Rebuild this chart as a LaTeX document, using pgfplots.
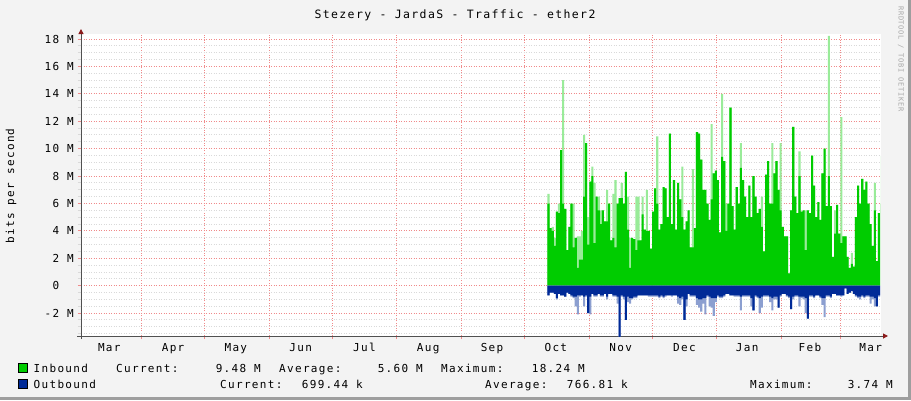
\documentclass[border=0pt]{standalone}
\usepackage{pgfplots}
\usepackage{pgfplotstable}
\pgfplotsset{compat=1.18}
\usetikzlibrary{arrows.meta}
\usepackage{fontspec}
\setmainfont{DejaVu Sans Mono}
\newfontfamily\rrd[LetterSpace=12]{DejaVu Sans Mono}
\newfontfamily\wmfont[LetterSpace=10]{DejaVu Sans Mono}
\definecolor{inb}{HTML}{00CC00}
\definecolor{outb}{HTML}{002A97}
\definecolor{bg}{HTML}{F3F3F3}
\definecolor{shadeb}{HTML}{9E9E9E}
\definecolor{mgrid}{HTML}{F08A8A}
\definecolor{mingrid}{HTML}{D9D9D9}
\definecolor{arrowc}{HTML}{8B1A1A}
\definecolor{axisc}{HTML}{505050}
\definecolor{wmc}{HTML}{A8A8A8}

\pgfplotstableread{
d ins inp outs outp
225 6.0 6.7 0.7 0.7
226 4.2 4.2 0.5 0.5
227 4.0 4.3 0.5 0.5
228 2.9 3.5 0.6 0.6
229 5.4 5.4 0.9 1.0
230 5.3 6.0 0.6 0.6
231 9.9 9.9 0.7 0.7
232 6.0 15.0 0.7 0.7
233 5.6 5.6 0.8 0.8
234 2.6 2.6 0.5 0.5
235 4.3 4.3 0.6 0.6
236 6.0 6.0 0.7 0.8
237 2.8 6.0 0.8 0.9
238 3.5 3.5 0.8 1.5
239 1.3 3.6 0.7 2.1
240 1.9 3.6 0.7 0.8
241 1.9 4.0 0.7 0.7
242 6.5 11.0 0.8 1.5
243 10.4 10.4 0.7 0.8
244 3.0 5.0 2.0 2.0
245 7.6 7.6 0.8 2.1
246 8.0 8.7 0.6 0.6
247 3.1 7.5 0.7 0.8
248 6.5 6.5 0.7 0.8
249 5.5 6.5 0.6 0.6
250 4.5 5.5 0.7 0.8
251 5.5 5.5 0.7 0.8
252 4.7 4.7 0.6 0.6
253 4.7 7.0 0.8 1.0
254 6.0 6.0 0.6 0.6
255 3.3 3.3 0.6 0.6
256 3.5 6.7 0.7 0.8
257 2.8 7.7 0.7 0.8
258 6.0 6.0 0.8 1.3
259 6.4 6.4 3.74 3.74
260 6.4 7.5 0.7 0.8
261 6.0 6.0 0.8 1.0
262 8.3 8.3 2.5 2.5
263 4.1 6.5 0.8 1.2
264 1.3 3.5 0.9 1.3
265 3.5 3.5 0.9 1.0
266 3.4 3.4 0.8 0.9
267 2.6 6.5 0.8 0.9
268 3.3 6.5 0.7 0.7
269 3.3 3.3 0.7 0.7
270 5.2 6.5 0.7 0.7
271 4.1 4.1 0.7 0.7
272 4.0 7.0 0.7 0.7
273 4.0 4.0 0.7 0.8
274 2.7 2.7 0.7 0.8
275 5.4 5.4 0.7 0.8
276 7.1 7.1 0.7 0.8
277 6.0 10.9 0.7 0.8
278 4.1 4.1 0.8 0.9
279 4.5 4.5 0.7 0.8
280 7.2 7.2 0.8 0.9
281 7.1 7.1 0.7 0.8
282 5.0 5.0 0.7 0.7
283 11.1 11.1 0.7 0.7
284 4.5 4.5 0.7 0.8
285 7.7 7.7 0.7 0.7
286 4.1 4.1 0.7 0.7
287 7.5 7.5 0.8 1.3
288 6.3 6.3 0.9 1.4
289 5.0 8.7 0.8 1.0
290 4.1 4.1 2.5 2.5
291 4.7 4.7 1.0 1.5
292 5.5 5.5 0.6 0.6
293 2.8 2.8 0.7 0.8
294 2.8 8.5 0.7 0.8
295 4.2 4.2 0.7 0.8
296 11.2 11.2 0.9 1.4
297 11.1 11.1 1.0 1.6
298 9.2 9.2 1.0 1.9
299 7.0 7.0 0.9 1.3
300 7.0 7.0 0.9 2.1
301 6.0 6.0 0.7 0.8
302 4.8 4.8 0.8 1.5
303 6.3 11.8 0.9 1.6
304 8.2 8.2 0.9 2.2
305 8.4 8.4 0.9 1.2
306 7.7 7.7 0.7 0.8
307 3.9 3.9 0.8 0.9
308 9.4 14.0 0.8 0.9
309 9.1 9.1 0.7 0.8
310 4.0 6.0 0.6 0.6
311 6.0 6.0 0.6 0.6
312 13.0 13.0 0.7 0.7
313 5.8 5.8 0.7 0.7
314 4.1 4.1 0.7 0.8
315 7.2 7.2 0.7 0.8
316 6.0 6.0 0.7 0.8
317 8.6 10.4 0.8 1.8
318 7.7 7.7 0.7 0.8
319 6.5 6.5 0.7 0.8
320 5.0 5.0 0.7 0.8
321 7.3 7.3 0.7 0.8
322 5.0 5.0 0.9 1.5
323 8.0 8.0 1.8 1.8
324 6.5 6.5 0.7 0.8
325 5.3 5.3 0.8 0.9
326 5.6 5.6 0.9 2.0
327 4.3 6.5 0.8 1.6
328 2.5 2.5 0.7 0.8
329 8.1 8.1 0.7 0.8
330 9.1 9.1 0.7 0.8
331 6.0 6.0 0.8 1.2
332 6.0 10.4 0.9 1.8
333 8.2 8.2 0.8 1.0
334 9.1 9.1 0.8 1.0
335 7.0 7.0 1.6 1.6
336 5.5 10.4 0.7 0.8
337 4.3 4.3 0.6 0.6
338 3.6 3.6 0.6 0.6
339 3.6 3.6 0.7 0.8
340 0.9 0.9 0.8 0.9
341 5.5 5.5 1.7 1.7
342 11.6 11.6 0.8 1.0
343 6.5 6.5 0.7 0.8
344 5.3 5.3 0.7 0.8
345 8.0 9.8 0.8 1.5
346 5.4 5.4 0.8 0.9
347 5.5 5.5 0.8 1.0
348 2.6 5.5 0.9 2.0
349 5.5 5.5 2.4 2.4
350 5.3 5.3 0.7 0.8
351 9.5 9.5 0.7 0.8
352 7.3 7.3 0.8 0.9
353 5.0 5.0 0.7 0.7
354 6.1 6.1 0.7 0.7
355 4.8 4.8 0.8 0.9
356 8.2 8.2 0.9 1.4
357 10.0 10.0 0.9 2.3
358 5.8 5.8 0.7 0.8
359 8.0 18.24 0.7 0.8
360 5.8 5.8 0.8 0.9
361 2.1 2.1 0.6 0.6
362 3.8 5.5 0.6 0.6
363 5.9 5.9 0.7 0.7
364 3.8 3.8 0.7 0.7
365 3.1 12.3 0.7 0.8
366 3.6 3.6 0.7 0.7
367 3.6 3.6 0.2 0.2
368 2.1 2.1 0.6 0.6
369 1.3 1.3 0.5 0.5
370 1.6 2.4 0.4 0.4
371 1.4 1.4 0.6 0.6
372 5.0 5.0 0.7 0.8
373 7.3 7.3 0.8 0.9
374 6.0 6.0 0.8 1.0
375 7.8 7.8 0.7 0.8
376 7.0 7.0 0.8 0.9
377 7.6 7.6 0.7 0.8
378 6.0 6.0 0.7 0.8
379 4.5 4.5 0.8 1.3
380 2.9 2.9 0.8 1.0
381 5.5 7.5 0.9 1.5
382 1.8 1.8 1.5 1.5
383 5.3 5.3 0.7 0.8
384 6.0 9.48 0.7 0.7
}\traffic

\begin{document}
\begin{tikzpicture}[x=1pt,y=1pt]
\fill[bg] (0,0) rectangle (911,400);
\fill[shadeb] (908,0) rectangle (911,400);
\fill[shadeb] (0,0) rectangle (911,3);
\begin{axis}[
  at={(81pt,64pt)}, anchor=south west,
  scale only axis, width=800pt, height=302pt,
  xmin=1.98, xmax=384.46, ymin=-3.67, ymax=18.37,
  axis background/.style={fill=white},
  axis lines=left,
  x axis line style={draw=axisc, line width=1pt, shorten <=-4pt, shorten >=-7pt, -{Triangle[length=5pt,width=5pt,color=arrowc]}},
  y axis line style={draw=axisc, line width=1pt, shorten <=-3pt, shorten >=-5pt, -{Triangle[length=5pt,width=5pt,color=arrowc]}},
  tick align=outside,
  major tick length=3pt, minor tick length=3pt,
  xtick={15.5,46,76,107,137.5,168,198.5,229,260,290.5,320.5,350.5,379.5},
  xticklabels={Mar,Apr,May,Jun,Jul,Aug,Sep,Oct,Nov,Dec,Jan,Feb,Mar},
  major x tick style={draw=none},
  minor xtick={31,61,92,122,153,184,214,245,275,306,337,365},
  xminorgrids,
  minor x grid style={draw=mgrid, line width=1pt, dash pattern=on 1pt off 1.5pt},
  minor x tick style={draw=mgrid, line width=1pt},
  ytick={-2,0,2,4,6,8,10,12,14,16,18},
  yticklabels={-2 M,0\hphantom{0M},2 M,4 M,6 M,8 M,10 M,12 M,14 M,16 M,18 M},
  minor ytick={-3.5,-3,-2.5,-1.5,-1,-0.5,0.5,1,1.5,2.5,3,3.5,4.5,5,5.5,6.5,7,7.5,8.5,9,9.5,10.5,11,11.5,12.5,13,13.5,14.5,15,15.5,16.5,17,17.5},
  ymajorgrids, yminorgrids,
  major y grid style={draw=mgrid, line width=1pt, dash pattern=on 1pt off 1.5pt},
  minor y grid style={draw=mingrid, line width=1pt, dash pattern=on 1pt off 1.5pt},
  major y tick style={draw=mgrid, line width=1pt},
  minor y tick style={draw=mingrid, line width=1pt},
  yticklabel style={font=\rrd\fontsize{11}{13}\selectfont, anchor=east, inner sep=0pt, xshift=-4pt},
  xticklabel style={font=\rrd\fontsize{11}{13}\selectfont, anchor=base, inner sep=0pt, yshift=-12pt},
  clip=true,
]
\addplot[fill=inb!40, draw=none, const plot] table[x=d, y=inp] {\traffic} \closedcycle;
\addplot[fill=inb, draw=none, const plot] table[x=d, y=ins] {\traffic} \closedcycle;
\addplot[fill=outb!45, draw=none, const plot] table[x=d, y expr=-\thisrow{outp}] {\traffic} \closedcycle;
\addplot[fill=outb, draw=none, const plot] table[x=d, y expr=-\thisrow{outs}] {\traffic} \closedcycle;
\end{axis}
% title
\node[anchor=base, font=\rrd\fontsize{11.5}{13}\selectfont] at (455,381) {Stezery - JardaS - Traffic - ether2};
% y label
\node[rotate=90, font=\rrd\fontsize{11}{13}\selectfont] at (11,214) {bits per second};
% watermark
\node[rotate=-90, anchor=west, inner sep=0pt, text=wmc, font=\wmfont\fontsize{7}{8}\selectfont] at (901,394) {RRDTOOL / TOBI OETIKER};
% legend
\filldraw[fill=inb, draw=black, line width=0.8pt] (18,28) rectangle (27,37);
\filldraw[fill=outb, draw=black, line width=0.8pt] (18,12) rectangle (27,21);
\begin{scope}[every node/.style={font=\rrd\fontsize{11}{13}\selectfont, inner sep=0pt}]
\node[anchor=base west] at (33.5,28) {Inbound};
\node[anchor=base west] at (116,28) {Current:};
\node[anchor=base east] at (261,28) {9.48 M};
\node[anchor=base west] at (279,28) {Average:};
\node[anchor=base east] at (423,28) {5.60 M};
\node[anchor=base west] at (441,28) {Maximum:};
\node[anchor=base east] at (585,28) {18.24 M};
\node[anchor=base west] at (33.5,12) {Outbound};
\node[anchor=base west] at (220,12) {Current:};
\node[anchor=base east] at (363,12) {699.44 k};
\node[anchor=base west] at (485,12) {Average:};
\node[anchor=base east] at (628,12) {766.81 k};
\node[anchor=base west] at (750,12) {Maximum:};
\node[anchor=base east] at (893,12) {3.74 M};
\end{scope}
\end{tikzpicture}
\end{document}
